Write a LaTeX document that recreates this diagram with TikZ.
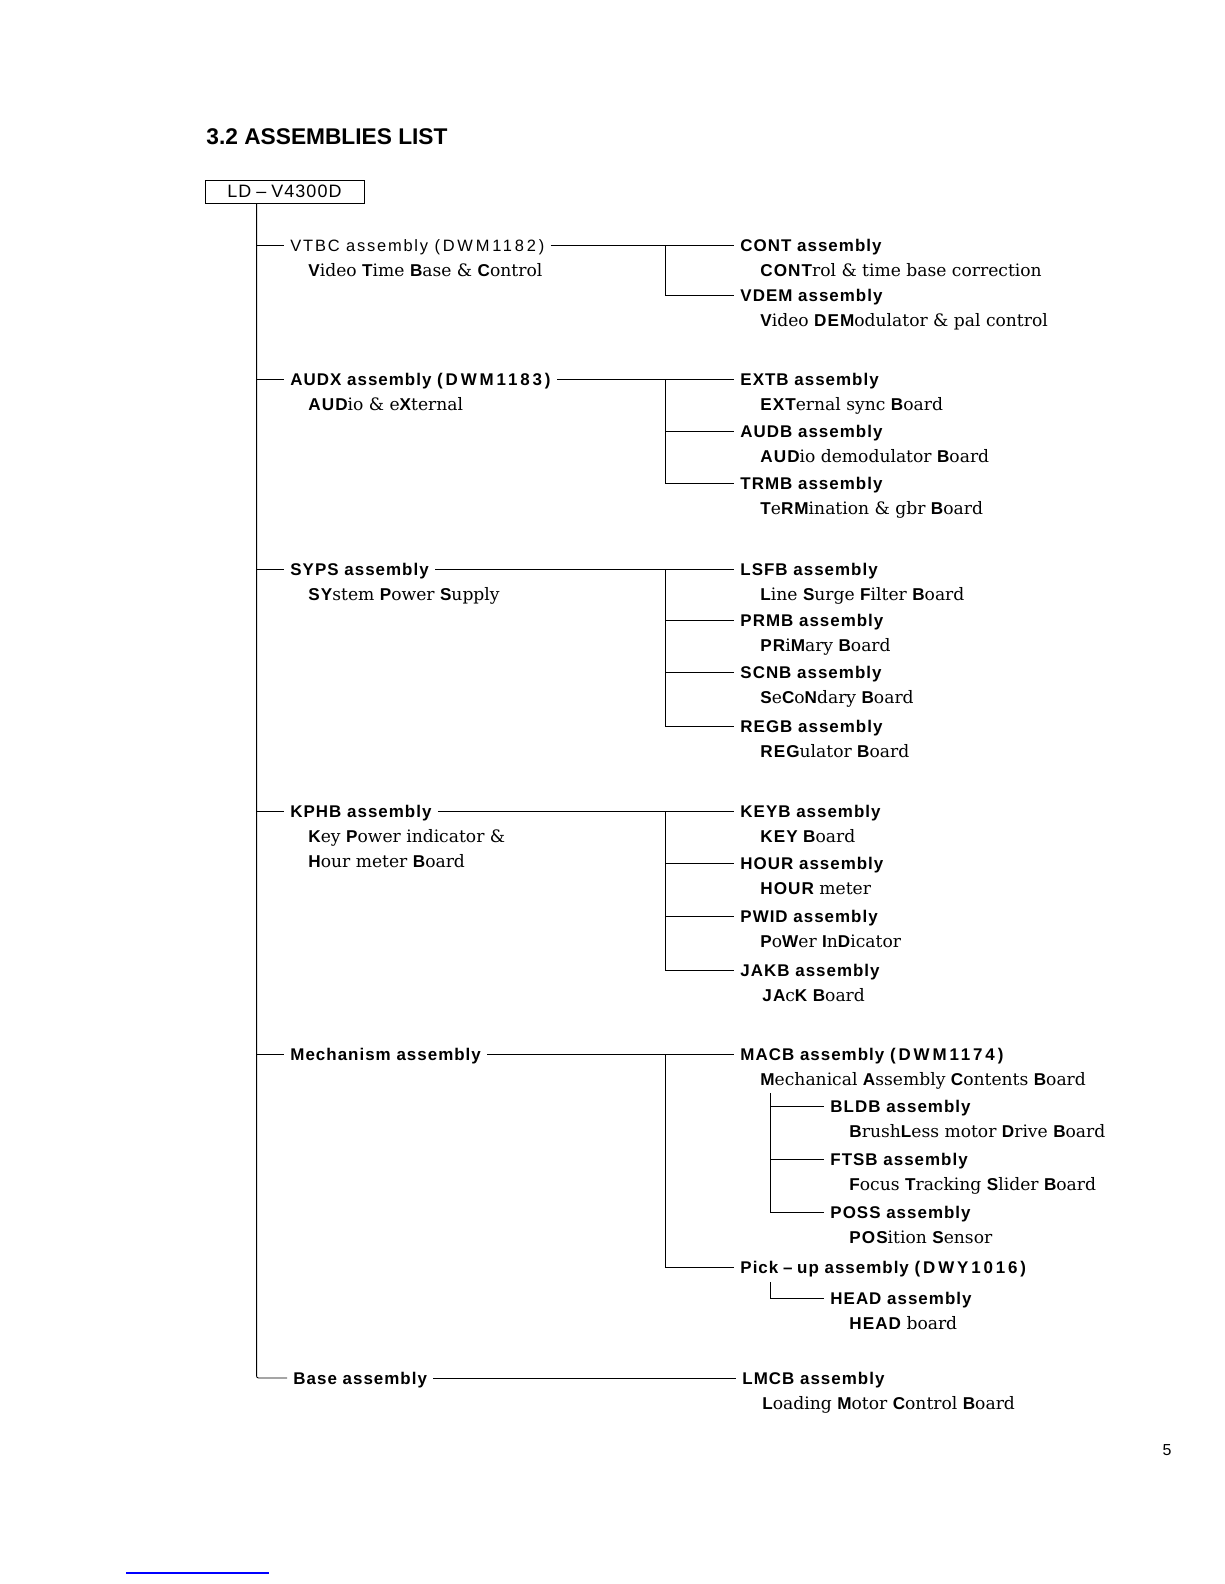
\documentclass[tikz,border=0pt]{standalone}
\usepackage{fontspec}
\setmainfont{DejaVu Serif}
\newfontfamily\asmfont[LetterSpace=6]{Liberation Sans}
\newfontfamily\regfont[LetterSpace=11]{Liberation Sans}
\newfontfamily\hdfont{Liberation Sans}
\usetikzlibrary{positioning}
\newcommand\ab[1]{{\asmfont\bfseries #1}}
\newcommand\pn[1]{{\addfontfeature{LetterSpace=17}#1}}

\begin{document}
\begin{tikzpicture}[x=1bp,y=-1bp,line width=0.9bp,
  asm/.style={anchor=west,inner xsep=6bp,inner ysep=0pt,text height=12bp,text depth=0pt,
    font=\asmfont\bfseries\fontsize{17}{19}\selectfont},
  asmreg/.style={asm,font=\regfont\fontsize{16.5}{18}\selectfont},
  desc/.style={anchor=west,inner xsep=6bp,inner ysep=0pt,text height=12bp,text depth=0pt,
    font=\fontsize{17.2}{20}\selectfont}]
  \useasboundingbox (0,0) rectangle (1224,1584);
  \node[anchor=base west,inner sep=0pt,font=\hdfont\bfseries\fontsize{22.8}{26}\selectfont] (title)
    at (206,145) {3.2 ASSEMBLIES LIST};
  \node[draw,minimum width=159bp,minimum height=23bp,inner sep=0pt,
    font=\asmfont\fontsize{18}{20}\selectfont] (ld) at (284.5,191.5) {LD\;–\;V4300D};
  \coordinate (trunk) at ([xshift=52bp]ld.south west);
  \coordinate (bx) at (665,0);

  \node[asmreg] (vtbc) at (284,245) {VTBC assembly \pn{(DWM1182)}};
  \node[desc] (vtbcd) at (302,270) {\ab{V}ideo \ab{T}ime \ab{B}ase \& \ab{C}ontrol};
  \node[asm] (cont) at (734,245) {CONT assembly};
  \node[desc] (contd) at (754,270) {\ab{CONT}rol \& time base correction};
  \node[asm] (vdem) at (734,295) {VDEM assembly};
  \node[desc] (vdemd) at (754,320) {\ab{V}ideo \ab{DEM}odulator \& pal control};

  \node[asm] (audx) at (284,379) {AUDX assembly \pn{(DWM1183)}};
  \node[desc] (audxd) at (302,404) {\ab{AUD}io \& e\ab{X}ternal};
  \node[asm] (extb) at (734,379) {EXTB assembly};
  \node[desc] (extbd) at (754,404) {\ab{EXT}ernal sync \ab{B}oard};
  \node[asm] (audb) at (734,431) {AUDB assembly};
  \node[desc] (audbd) at (754,456) {\ab{AUD}io demodulator \ab{B}oard};
  \node[asm] (trmb) at (734,483) {TRMB assembly};
  \node[desc] (trmbd) at (754,508) {\ab{T}e\ab{RM}ination \& gbr \ab{B}oard};

  \node[asm] (syps) at (284,569) {SYPS assembly};
  \node[desc] (sypsd) at (302,594) {\ab{SY}stem \ab{P}ower \ab{S}upply};
  \node[asm] (lsfb) at (734,569) {LSFB assembly};
  \node[desc] (lsfbd) at (754,594) {\ab{L}ine \ab{S}urge \ab{F}ilter \ab{B}oard};
  \node[asm] (prmb) at (734,620) {PRMB assembly};
  \node[desc] (prmbd) at (754,645) {\ab{PR}i\ab{M}ary \ab{B}oard};
  \node[asm] (scnb) at (734,672) {SCNB assembly};
  \node[desc] (scnbd) at (754,697) {\ab{S}e\ab{C}o\ab{N}dary \ab{B}oard};
  \node[asm] (regb) at (734,726) {REGB assembly};
  \node[desc] (regbd) at (754,751) {\ab{REG}ulator \ab{B}oard};

  \node[asm] (kphb) at (284,811) {KPHB assembly};
  \node[desc] (kphbd) at (302,836) {\ab{K}ey \ab{P}ower indicator \&};
  \node[desc] (kphbe) at (302,861) {\ab{H}our meter \ab{B}oard};
  \node[asm] (keyb) at (734,811) {KEYB assembly};
  \node[desc] (keybd) at (754,836) {\ab{KEY} \ab{B}oard};
  \node[asm] (hour) at (734,863) {HOUR assembly};
  \node[desc] (hourd) at (754,888) {\ab{HOUR} meter};
  \node[asm] (pwid) at (734,916) {PWID assembly};
  \node[desc] (pwidd) at (754,941) {\ab{P}o\ab{W}er \ab{I}n\ab{D}icator};
  \node[asm] (jakb) at (734,970) {JAKB assembly};
  \node[desc] (jakbd) at (756,995) {\ab{JA}c\ab{K} \ab{B}oard};

  \node[asm] (mech) at (284,1054) {Mechanism assembly};
  \node[asm] (macb) at (734,1054) {MACB assembly \pn{(DWM1174)}};
  \node[desc] (macbd) at (754,1079) {\ab{M}echanical \ab{A}ssembly \ab{C}ontents \ab{B}oard};
  \node[asm] (bldb) at (824,1106) {BLDB assembly};
  \node[desc] (bldbd) at (843,1131) {\ab{B}rush\ab{L}ess motor \ab{D}rive \ab{B}oard};
  \node[asm] (ftsb) at (824,1159) {FTSB assembly};
  \node[desc] (ftsbd) at (843,1184) {\ab{F}ocus \ab{T}racking \ab{S}lider \ab{B}oard};
  \node[asm] (poss) at (824,1212) {POSS assembly};
  \node[desc] (possd) at (843,1237) {\ab{POS}ition \ab{S}ensor};
  \node[asm] (pick) at (734,1267) {Pick\;–\;up assembly \pn{(DWY1016)}};
  \node[asm] (head) at (824,1298) {HEAD assembly};
  \node[desc] (headd) at (843,1323) {\ab{HEAD} board};
  \coordinate (ibx) at (770,1093);
  \coordinate (hbx) at (770,1282);

  \node[asm] (base) at (287,1378) {Base assembly};
  \node[asm] (lmcb) at (736,1378) {LMCB assembly};
  \node[desc] (lmcbd) at (756,1403) {\ab{L}oading \ab{M}otor \ab{C}ontrol \ab{B}oard};

  \draw[rounded corners=2bp] (trunk) |- (base.west);
  \foreach \n in {vtbc,audx,syps,kphb,mech}
    \draw (trunk |- \n.west) -- (\n.west);
  \foreach \a/\b in {vtbc/cont,audx/extb,syps/lsfb,kphb/keyb,mech/macb,base/lmcb}
    \draw (\a.east) -- (\b.west);
  \draw (cont.west -| bx) |- (vdem.west);
  \draw (extb.west -| bx) |- (trmb.west);
  \draw (lsfb.west -| bx) |- (regb.west);
  \draw (keyb.west -| bx) |- (jakb.west);
  \draw (macb.west -| bx) |- (pick.west);
  \foreach \n in {audb,prmb,scnb,hour,pwid}
    \draw (\n.west -| bx) -- (\n.west);
  \draw (ibx) |- (poss.west);
  \foreach \n in {bldb,ftsb}
    \draw (\n.west -| ibx) -- (\n.west);
  \draw (hbx) |- (head.west);

  \node[inner sep=0pt,font=\asmfont\fontsize{16}{18}\selectfont] (page) at (1167,1450) {5};
  \draw[blue,line width=1.2bp] (126,1573) -- (269,1573);
\end{tikzpicture}
\end{document}
